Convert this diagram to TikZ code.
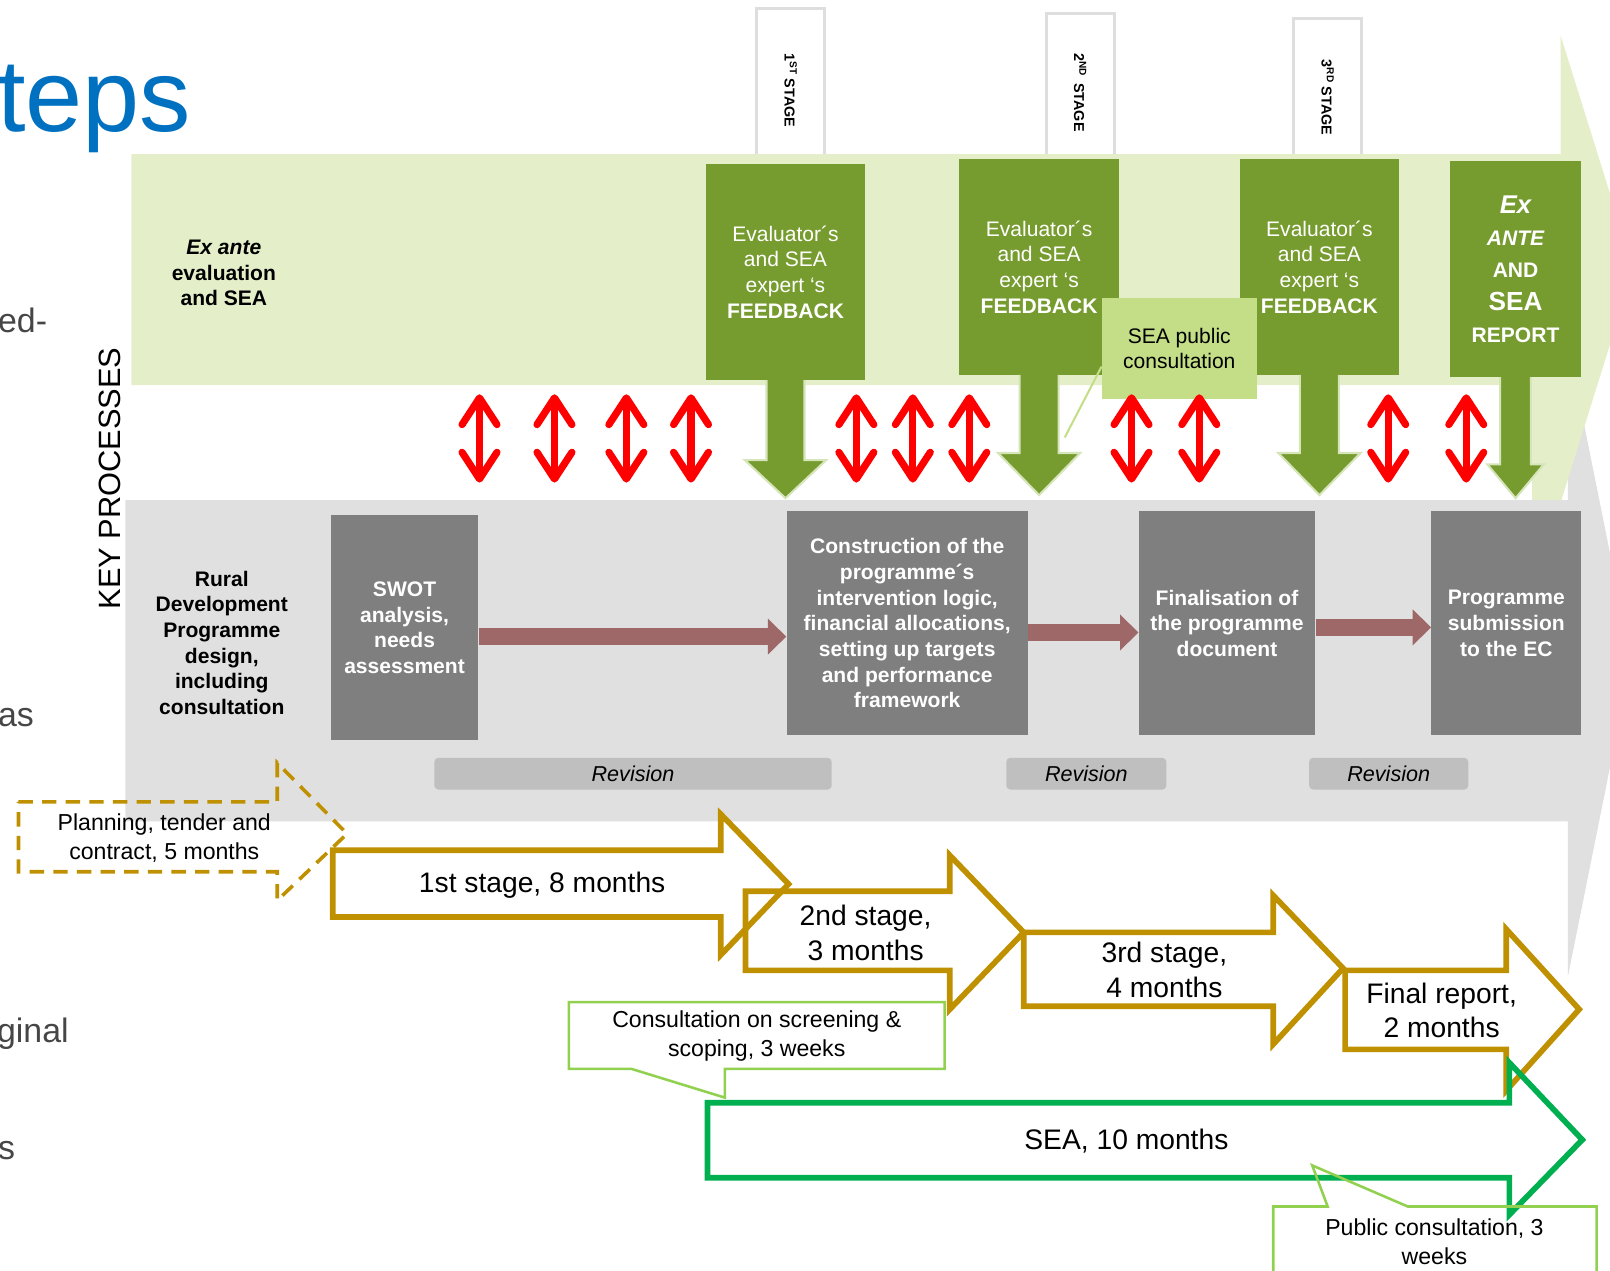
\documentclass[tikz,border=0pt]{standalone}
\usepackage{fontspec}
\setmainfont{Liberation Sans}
\usetikzlibrary{arrows.meta,positioning,calc}

\definecolor{bandgreen}{RGB}{228,239,201}
\definecolor{bandgray}{RGB}{224,224,224}
\definecolor{boxgreen}{RGB}{118,155,46}
\definecolor{palegreen}{RGB}{214,228,186}
\definecolor{seagreen}{RGB}{195,222,134}
\definecolor{boxgray}{RGB}{127,127,127}
\definecolor{revgray}{RGB}{191,191,191}
\definecolor{arrbrown}{RGB}{158,104,104}
\definecolor{gold}{RGB}{191,144,0}
\definecolor{seaarrow}{RGB}{0,176,80}
\definecolor{callgreen}{RGB}{146,208,80}
\definecolor{titleblue}{RGB}{0,112,192}
\definecolor{sidegray}{RGB}{70,70,70}

\newcommand{\setfs}[2]{\fontsize{#1pt}{#2pt}\selectfont}

\begin{document}
\begin{tikzpicture}[x=1pt,y=-1pt,
  evalbox/.style={fill=boxgreen,text=white,align=center,inner sep=0pt,font=\setfs{20.5}{25}},
  procbox/.style={fill=boxgray,text=white,align=center,inner sep=0pt,font=\bfseries\setfs{20.5}{25}},
  revbox/.style={fill=revgray,rounded corners=4pt,inner sep=0pt,minimum height=31pt,font=\itshape\setfs{21}{25}},
  stagetab/.style={draw=black!13,line width=3pt,fill=white,minimum width=66pt,inner sep=0pt},
  tabtext/.style={rotate=-90,font=\bfseries\setfs{14}{16}},
  sidetext/.style={anchor=base west,inner sep=0pt,text=sidegray,font=\setfs{33}{33}},
  downarr/.style={fill=boxgreen,draw=palegreen,line width=2pt},
  redarr/.style={red,line width=7pt,{Straight Barb[round,length=26pt,width=34pt]}-{Straight Barb[round,length=26pt,width=34pt]}},
  brownarr/.style={arrbrown,line width=17pt,-{Triangle[length=18pt,width=34pt]}},
  goldarr/.style={draw=gold,line width=5.5pt},
  planarr/.style={draw=gold,line width=3.5pt,dash pattern=on 14pt off 9pt},
  seaarr/.style={draw=seaarrow,line width=5.5pt},
  callout/.style={draw=callgreen,line width=2.5pt},
  steptext/.style={align=center,font=\setfs{27.5}{34}},
  calltext/.style={align=center,font=\setfs{22.5}{28}}]

\useasboundingbox (0,0) rectangle (1568,1237);

% left column of the slide, cut off
\node[anchor=base west,inner sep=0pt,text=titleblue,font=\setfs{100}{100}] (title) at (-3,128) {teps};
\node[sidetext] (side1) at (-2,324) {ed-};
\node[sidetext] (side2) at (-2,708) {as};
\node[sidetext] (side3) at (-3,1015) {ginal};
\node[sidetext] (side4) at (-2,1129) {s};

% stage tabs
\node[stagetab,minimum height=152pt] (tab1) at (770,84) {};
\node[stagetab,minimum height=147pt] (tab2) at (1052,87) {};
\node[stagetab,minimum height=142pt] (tab3) at (1293,89) {};
\node[tabtext] (tab1txt) at (770,88) {1\textsuperscript{ST} STAGE};
\node[tabtext] (tab2txt) at (1052,90) {2\textsuperscript{ND}\enspace STAGE};
\node[tabtext] (tab3txt) at (1293,95) {3\textsuperscript{RD} STAGE};

% big background arrows
\fill[bandgray] (122,487) -- (1527,487) -- (1527,335) -- (1589,643)
  -- (1527,951) -- (1527,800) -- (122,800) -- cycle;
\fill[bandgreen] (128,150) -- (1520,150) -- (1520,35) -- (1591,262)
  -- (1520,489) -- (1520,375) -- (128,375) -- cycle;
\fill[bandgreen] (1492,375) rectangle (1521,487);

\node[rotate=90,font=\setfs{30}{30}] (keyproc) at (107,466) {KEY PROCESSES};
\node[align=center,font=\bfseries\setfs{20.5}{25}] (exante) at (218,266)
  {\itshape Ex ante\\evaluation\\and SEA};
\node[align=center,font=\bfseries\setfs{20.5}{25}] (rdp) at (216,626)
  {Rural\\Development\\Programme\\design,\\including\\consultation};

% evaluator feedback
\node[evalbox,minimum width=154pt,minimum height=210pt] (feed1) at (765,265)
  {Evaluator´s\\and SEA\\expert ‘s\\\textbf{FEEDBACK}};
\node[evalbox,minimum width=156pt,minimum height=210pt] (feed2) at (1012,260)
  {Evaluator´s\\and SEA\\expert ‘s\\\textbf{FEEDBACK}};
\node[evalbox,minimum width=154pt,minimum height=210pt] (feed3) at (1285,260)
  {Evaluator´s\\and SEA\\expert ‘s\\\textbf{FEEDBACK}};
\node[evalbox,minimum width=128pt,minimum height=210pt,font=\bfseries\setfs{20.5}{31.5}] (report) at (1476,262)
  {{\itshape\setfs{25}{31.5}Ex}\\\itshape ANTE\\AND\\{\setfs{25.5}{31.5}SEA}\\REPORT};

\foreach \b/\s/\a/\d/\l in {feed1/18.5/78/21/37, feed2/19/76/21/41, feed3/19/76/21/41, report/15/85/12.5/33}
  \draw[downarr] ([xshift=-\s pt]\b.south) -- ++(0,\a) -- ++(-\d,0) -- ++(\s+\d,\l)
    -- ++(\s+\d,-\l) -- ++(-\d,0) -- ++(0,-\a);

% SEA consultation
\node[fill=seagreen,minimum width=151pt,minimum height=99pt,inner sep=0pt,align=center,
  font=\setfs{20.5}{25}] (seapub) at (1148.5,339.5) {SEA public\\consultation};
\coordinate (seaptr) at (1037,426);
\draw[seagreen,line width=2pt] ([yshift=-17.5pt]seapub.west) -- (seaptr);

% exchange between the two processes
\foreach \x in {467,540,610,673,834,889,944,1102,1168,1352,1428}
  \draw[redarr] (\x,384) -- (\x,470);

% programme design
\node[procbox,minimum width=144pt,minimum height=219pt] (swot) at (394,611.5)
  {SWOT\\analysis,\\needs\\assessment};
\node[procbox,minimum width=235pt,minimum height=218pt] (constr) at (883.5,607)
  {Construction of the\\programme´s\\intervention logic,\\financial allocations,\\setting up targets\\and performance\\framework};
\node[procbox,minimum width=172pt,minimum height=218pt] (final) at (1195,607)
  {Finalisation of\\the programme\\document};
\node[procbox,minimum width=146pt,minimum height=218pt] (submit) at (1467,607)
  {Programme\\submission\\to the EC};

\coordinate (ba) at (0,620);
\coordinate (bb) at (0,616);
\coordinate (bc) at (0,611);
\draw[brownarr] (swot.east |- ba) -- (constr.west |- ba);
\draw[brownarr] (constr.east |- bb) -- (final.west |- bb);
\draw[brownarr] (final.east |- bc) -- (submit.west |- bc);

\node[revbox,minimum width=387pt] (rev1) at (616.5,753.5) {Revision};
\node[revbox,minimum width=156pt] (rev2) at (1058,753.5) {Revision};
\node[revbox,minimum width=155pt] (rev3) at (1352.5,753.5) {Revision};

% time line
\draw[planarr] (18,781) -- (270,781) -- (270,743) -- (338,812) -- (270,877)
  -- (270,849) -- (18,849) -- cycle;
\node[calltext] (plan) at (160,816) {Planning, tender and\\contract, 5 months};

\draw[goldarr] (324,828) -- (702,828) -- (702,793) -- (768,861) -- (702,930)
  -- (702,893) -- (324,893) -- cycle;
\node[steptext] (st1) at (528,862) {1st stage, 8 months};
\draw[goldarr] (726,868) -- (925,868) -- (925,833) -- (997,908) -- (925,983)
  -- (925,945) -- (726,945) -- cycle;
\node[steptext] (st2) at (843,909) {2nd stage,\\3 months};
\draw[goldarr] (997,908) -- (1240,908) -- (1240,872) -- (1308,943) -- (1240,1017)
  -- (1240,980) -- (997,980) -- cycle;
\node[steptext] (st3) at (1134,944.5) {3rd stage,\\4 months};
\draw[goldarr] (1310,945) -- (1467,945) -- (1467,905) -- (1538,983) -- (1467,1062)
  -- (1467,1022) -- (1310,1022) -- cycle;
\node[steptext] (st4) at (1404,984) {Final report,\\2 months};

\draw[seaarr] (689,1074) -- (1470,1074) -- (1470,1035) -- (1541,1110) -- (1470,1183)
  -- (1470,1147) -- (689,1147) -- cycle;
\node[steptext] (sea) at (1097,1111) {SEA, 10 months};

% consultations
\draw[callout] (615,1041) -- (554,1041) -- (554,976) -- (920,976) -- (920,1041)
  -- (706,1041) -- (706,1069) -- cycle;
\node[calltext] (scoping) at (737,1009) {Consultation on screening \&\\scoping, 3 weeks};
\draw[callout] (1293,1175) -- (1240,1175) -- (1240,1262) -- (1555,1262) -- (1555,1175)
  -- (1371,1175) -- (1278,1135) -- cycle;
\node[calltext] (public) at (1397,1209) {Public consultation, 3\\weeks};
\end{tikzpicture}
\end{document}
